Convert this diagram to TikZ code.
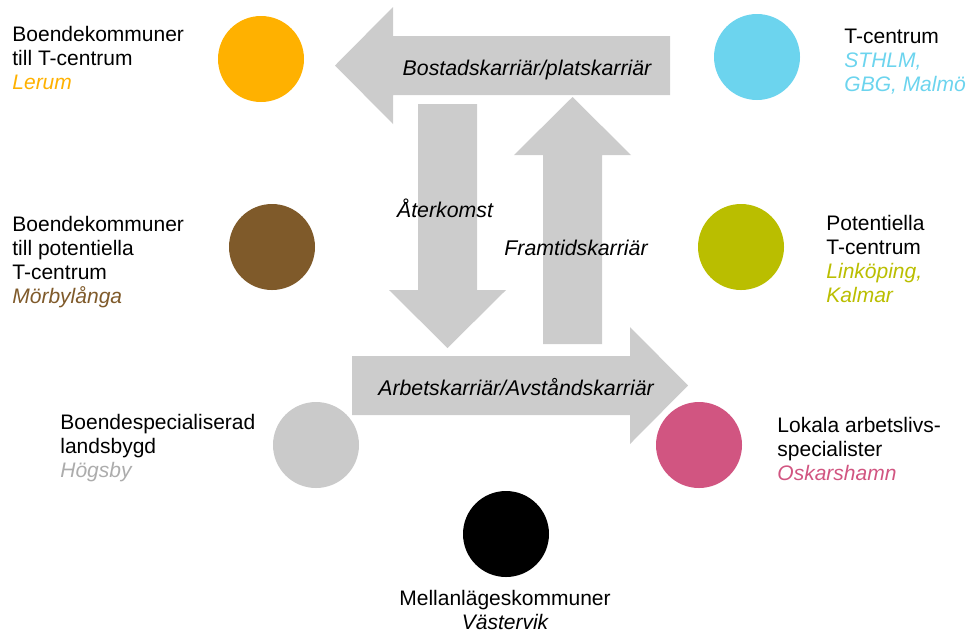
\documentclass[tikz,border=0pt]{standalone}
\usepackage{fontspec}
\setmainfont{Liberation Sans}
\usepackage{tikz}
\usetikzlibrary{positioning}

\definecolor{arrowgray}{HTML}{CCCCCC}
\definecolor{orangeT}{HTML}{FFB100}
\definecolor{cyanT}{HTML}{6CD4EE}
\definecolor{brownT}{HTML}{7F5A2A}
\definecolor{oliveT}{HTML}{BABE00}
\definecolor{grayT}{HTML}{CACACA}
\definecolor{pinkT}{HTML}{D15581}

\tikzset{
  dot/.style={circle, minimum size=43pt, inner sep=0pt},
  kind/.style={align=left, inner sep=0pt, anchor=base west},
  flow/.style={inner sep=0pt, anchor=base, font=\fontsize{10.65}{12}\selectfont\itshape},
}

\begin{document}
\begin{tikzpicture}[x=0.5pt, y=-0.5pt, font=\fontsize{10.5}{12}\selectfont]

    \useasboundingbox (0,0) rectangle (967,634);

    % Big grey arrows
    \fill[arrowgray] (393,36) -- (670,36) -- (670,95) -- (393,95) -- (393,124)
        -- (335,65.5) -- (393,7) -- cycle; % left: bostad
    \fill[arrowgray] (418,104) -- (477,104) -- (477,290) -- (506,290)
        -- (447.5,348) -- (389,290) -- (418,290) -- cycle; % down: aterkomst
    \fill[arrowgray] (543,344) -- (602,344) -- (602,155) -- (631,155)
        -- (572.5,97) -- (514,155) -- (543,155) -- cycle; % up: framtid
    \fill[arrowgray] (352,356) -- (630,356) -- (630,327) -- (688,385.5)
        -- (630,444) -- (630,415) -- (352,415) -- cycle; % right: arbete

    % Arrow labels
    \node[flow] (bostad) at (527,75) {Bostadskarriär/platskarriär};
    \node[flow] (aterkomst) at (445,217) {Återkomst};
    \node[flow] (framtid) at (576,255) {Framtidskarriär};
    \node[flow] (arbete) at (516,395) {Arbetskarriär/Avståndskarriär};

    % Left side: municipality types (anchored at last baseline)
    \node[dot, fill=orangeT] (lerum) at (261,59) {};
    \node[kind] (lerumtxt) at (12,89) {Boendekommuner\\till T-centrum\\\textcolor{orangeT}{\itshape Lerum}};

    \node[dot, fill=brownT] (morby) at (272,247) {};
    \node[kind] (morbytxt) at (12,303) {Boendekommuner\\till potentiella\\T-centrum\\\textcolor{brownT}{\itshape Mörbylånga}};

    \node[dot, fill=grayT] (hogsby) at (316,445) {};
    \node[kind] (hogsbytxt) at (60,477) {Boendespecialiserad\\landsbygd\\\textcolor{grayT!85!black}{\itshape Högsby}};

    % Right side
    \node[dot, fill=cyanT] (sthlm) at (757,57) {};
    \node[kind] (sthlmtxt) at (844,91) {T-centrum\\\textcolor{cyanT}{\itshape STHLM,}\\\textcolor{cyanT}{\itshape GBG, Malmö}};

    \node[dot, fill=oliveT] (linkoping) at (741,247) {};
    \node[kind] (linkopingtxt) at (826,302) {Potentiella\\T-centrum\\\textcolor{oliveT}{\itshape Linköping,}\\\textcolor{oliveT}{\itshape Kalmar}};

    \node[dot, fill=pinkT] (oskarshamn) at (699,445) {};
    \node[kind] (oskarshamntxt) at (777,480) {Lokala arbetslivs-\\specialister\\\textcolor{pinkT}{\itshape Oskarshamn}};

    % Bottom
    \node[dot, fill=black] (vastervik) at (506,534) {};
    \node[kind, align=center, anchor=base] (vasterviktxt) at (505,629) {Mellanlägeskommuner\\{\itshape Västervik}};

\end{tikzpicture}
\end{document}
